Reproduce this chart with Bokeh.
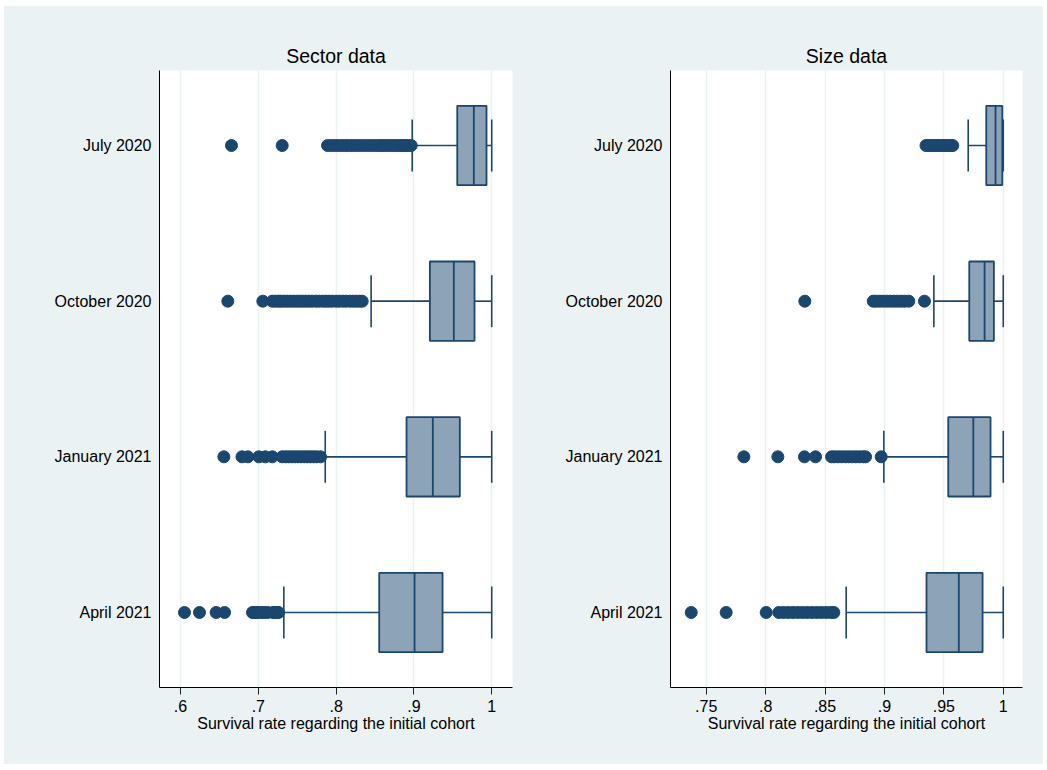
from bokeh.plotting import figure
from bokeh.layouts import row
from bokeh.models import FixedTicker, Range1d
from bokeh.embed import file_html
from bokeh.resources import INLINE

# ---------------- data ----------------
categories = ["July 2020", "October 2020", "January 2021", "April 2021"]

# Sector data panel
sector_q1 = [0.9557, 0.9205, 0.8905, 0.8554]
sector_med = [0.9770, 0.9513, 0.9243, 0.9008]
sector_q3 = [0.9933, 0.9779, 0.9590, 0.9368]
sector_lo = [0.8978, 0.8450, 0.7860, 0.7328]
sector_hi = [1.0, 1.0, 1.0, 1.0]
sector_out = [
    [0.6655, 0.7307, 0.789, 0.794, 0.799, 0.804, 0.809, 0.814, 0.819, 0.824, 0.829,
     0.834, 0.839, 0.844, 0.849, 0.854, 0.858, 0.862, 0.866, 0.870, 0.874, 0.878,
     0.882, 0.886, 0.889, 0.892, 0.8965],
    [0.6608, 0.7058, 0.718, 0.722, 0.726, 0.729, 0.733, 0.737, 0.741, 0.745, 0.749,
     0.753, 0.757, 0.761, 0.765, 0.769, 0.774, 0.778, 0.783, 0.787, 0.791, 0.795,
     0.800, 0.804, 0.809, 0.813, 0.818, 0.822, 0.826, 0.830, 0.8335],
    [0.6557, 0.679, 0.6866, 0.7007, 0.709, 0.718, 0.7307, 0.735, 0.739, 0.743, 0.747,
     0.751, 0.755, 0.759, 0.763, 0.767, 0.771, 0.775, 0.780],
    [0.6051, 0.6244, 0.6458, 0.6566, 0.6925, 0.695, 0.697, 0.6995, 0.704, 0.708,
     0.712, 0.719, 0.721, 0.724, 0.726],
]
sector_ticks = [0.6, 0.7, 0.8, 0.9, 1.0]
sector_tick_labels = [".6", ".7", ".8", ".9", "1"]

# Size data panel
size_q1 = [0.9857, 0.9714, 0.9537, 0.9354]
size_med = [0.9935, 0.9843, 0.9748, 0.9626]
size_q3 = [0.9992, 0.9921, 0.9893, 0.9826]
size_lo = [0.9705, 0.9416, 0.8995, 0.8678]
size_hi = [1.0, 1.0, 1.0, 1.0]
size_out = [
    [0.935, 0.9375, 0.940, 0.942, 0.944, 0.946, 0.948, 0.950, 0.952, 0.954, 0.956, 0.9575],
    [0.833, 0.8906, 0.893, 0.896, 0.899, 0.902, 0.905, 0.908, 0.911, 0.914, 0.917,
     0.9205, 0.9337],
    [0.7817, 0.8103, 0.8327, 0.842, 0.8555, 0.858, 0.861, 0.864, 0.867, 0.870, 0.873,
     0.876, 0.879, 0.882, 0.8841, 0.8973],
    [0.7374, 0.7668, 0.8005, 0.8111, 0.815, 0.819, 0.823, 0.827, 0.831, 0.835, 0.839,
     0.843, 0.847, 0.851, 0.855, 0.8574],
]
size_ticks = [0.75, 0.8, 0.85, 0.9, 0.95, 1.0]
size_tick_labels = [".75", ".8", ".85", ".9", ".95", "1"]

# ---------------- style ----------------
BG = "#EAF2F3"
NAVY = "#1A476F"
FILL = "#8DA3B8"
FONT = "Liberation Sans"
BOX_H = 0.255
CAP_H = 0.167


def make_panel(title, q1, med, q3, lo, hi, outs, ticks, tick_labels, xr,
               width, border_left, frame_w, border_right):
    n = len(categories)
    ypos = [n - i for i in range(n)]  # first category at top
    p = figure(width=width, height=758, x_range=Range1d(*xr),
               y_range=Range1d(0.518, n + 0.482),
               output_backend="svg", toolbar_location=None,
               min_border_left=border_left, min_border_right=border_right,
               min_border_top=64, min_border_bottom=77,
               frame_width=frame_w, frame_height=617)
    p.border_fill_color = BG
    p.background_fill_color = "white"
    p.outline_line_color = None

    p.title.text = title
    p.title.align = "center"
    p.title.text_font = FONT
    p.title.text_font_size = "19.5px"
    p.title.text_font_style = "normal"
    p.title.text_color = "black"
    p.title.standoff = 8

    # grid
    p.ygrid.grid_line_color = None
    p.xgrid.grid_line_color = BG
    p.xgrid.grid_line_width = 1.5
    p.xgrid.ticker = FixedTicker(ticks=ticks)

    # x axis
    xa = p.xaxis[0]
    xa.ticker = FixedTicker(ticks=ticks)
    xa.major_label_overrides = {t: l for t, l in zip(ticks, tick_labels)}
    xa.axis_label = "Survival rate regarding the initial cohort"
    xa.axis_label_text_font = FONT
    xa.axis_label_text_font_size = "16px"
    xa.axis_label_text_font_style = "normal"
    xa.axis_label_text_color = "black"
    xa.axis_label_standoff = 0
    xa.major_label_text_font = FONT
    xa.major_label_text_font_size = "16px"
    xa.major_label_text_color = "black"
    xa.major_label_standoff = 5
    xa.major_tick_out = 7
    xa.major_tick_in = 0
    xa.minor_tick_out = 0
    xa.minor_tick_in = 0
    xa.axis_line_color = "black"
    xa.major_tick_line_color = "#222222"

    # y axis
    ya = p.yaxis[0]
    ya.ticker = FixedTicker(ticks=ypos)
    ya.major_label_overrides = {y: c for y, c in zip(ypos, categories)}
    ya.major_label_text_font = FONT
    ya.major_label_text_font_size = "16px"
    ya.major_label_text_color = "black"
    ya.major_label_standoff = 8
    ya.major_tick_out = 0
    ya.major_tick_in = 0
    ya.minor_tick_out = 0
    ya.minor_tick_in = 0
    ya.axis_line_color = "black"

    # whiskers
    p.segment(x0=lo, x1=q1, y0=ypos, y1=ypos, line_color=NAVY, line_width=1.6)
    p.segment(x0=q3, x1=hi, y0=ypos, y1=ypos, line_color=NAVY, line_width=1.6)
    # caps
    p.segment(x0=lo, x1=lo, y0=[y - CAP_H for y in ypos], y1=[y + CAP_H for y in ypos],
              line_color=NAVY, line_width=1.6)
    p.segment(x0=hi, x1=hi, y0=[y - CAP_H for y in ypos], y1=[y + CAP_H for y in ypos],
              line_color=NAVY, line_width=1.6)
    # boxes
    p.hbar(y=ypos, left=q1, right=q3, height=2 * BOX_H, fill_color=FILL,
           line_color=NAVY, line_width=1.8)
    # medians
    p.segment(x0=med, x1=med, y0=[y - BOX_H for y in ypos], y1=[y + BOX_H for y in ypos],
              line_color=NAVY, line_width=1.8)
    # outliers
    ox, oy = [], []
    for y, vals in zip(ypos, outs):
        ox.extend(vals)
        oy.extend([y] * len(vals))
    p.scatter(x=ox, y=oy, size=12, marker="circle", fill_color=NAVY, line_color=NAVY)
    return p


p1 = make_panel("Sector data", sector_q1, sector_med, sector_q3, sector_lo, sector_hi,
                sector_out, sector_ticks, sector_tick_labels, (0.5730, 1.0267),
                width=516, border_left=155, frame_w=353, border_right=8)
p2 = make_panel("Size data", size_q1, size_med, size_q3, size_lo, size_hi,
                size_out, size_ticks, size_tick_labels, (0.71995, 1.0162),
                width=523, border_left=150, frame_w=352, border_right=21)

layout = row(p1, p2, spacing=0, margin=(6, 0, 0, 4),
             styles={"background-color": BG})
open("out.html", "w").write(file_html(layout, INLINE))
